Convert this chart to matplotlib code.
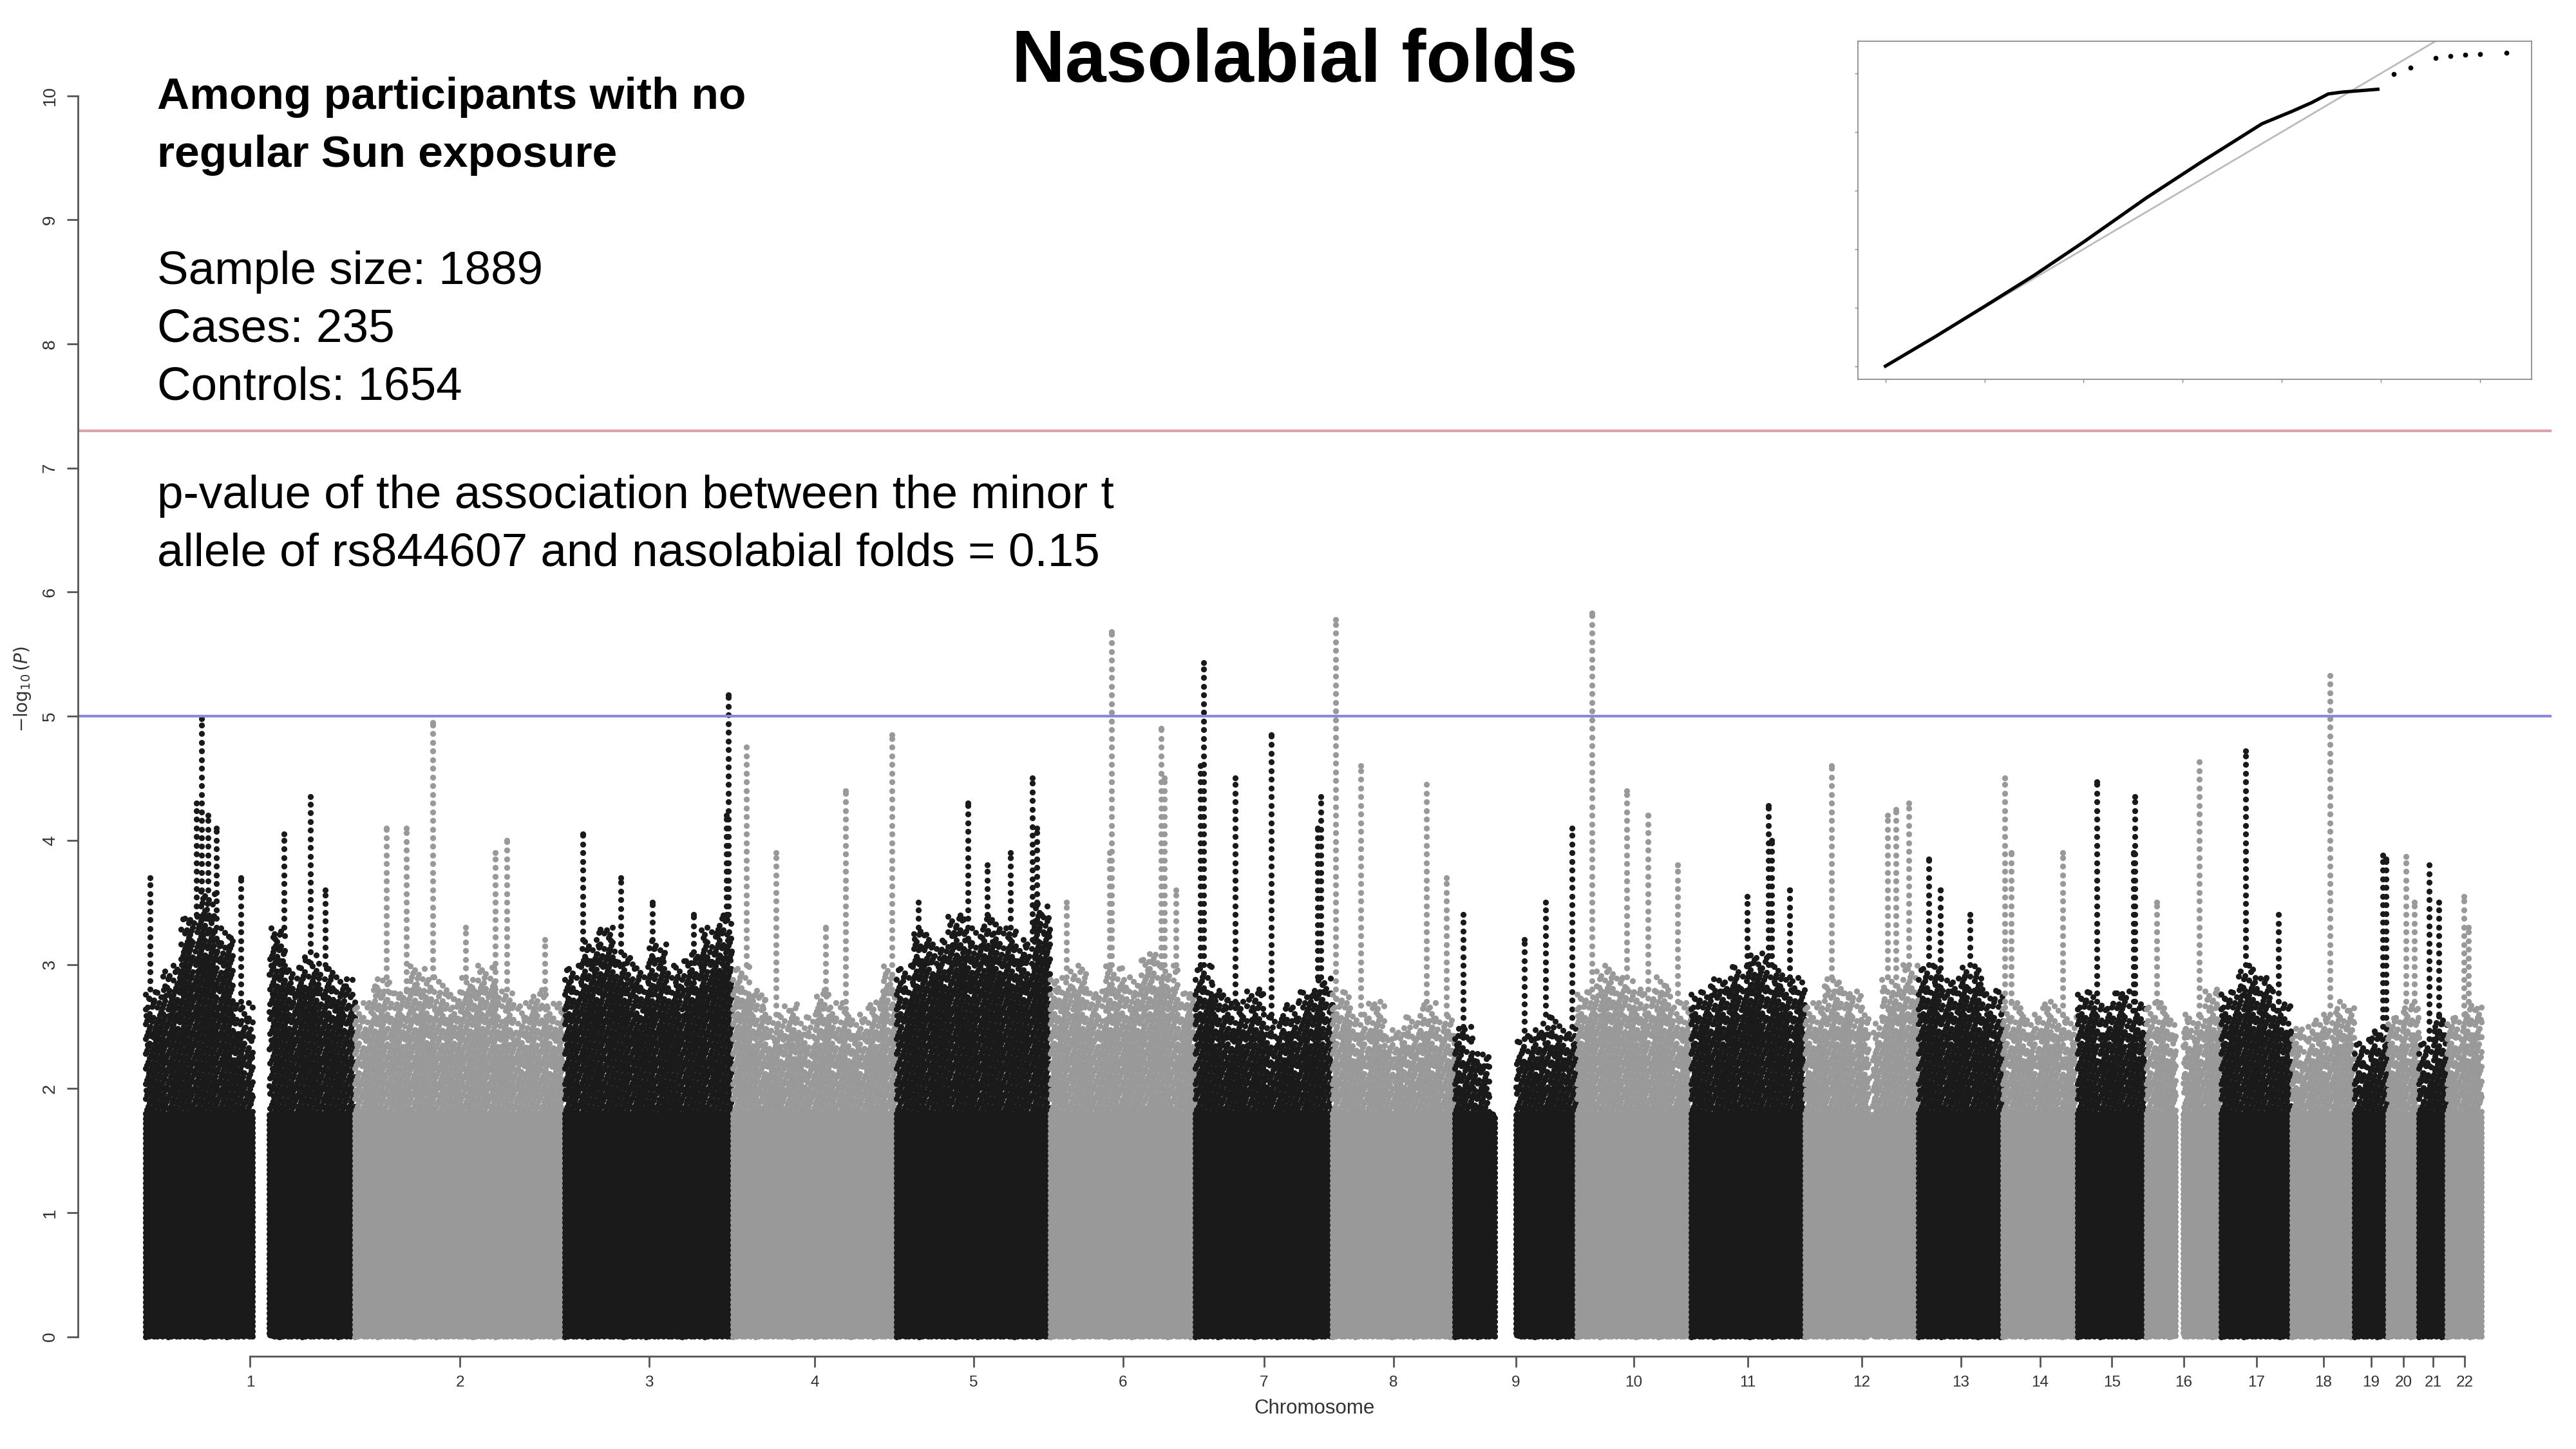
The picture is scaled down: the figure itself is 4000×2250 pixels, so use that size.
import matplotlib.pyplot as plt
import numpy as np

plt.rcParams['font.family'] = ['Liberation Sans', 'DejaVu Sans']

W, H = 1560.0, 878.0  # reference layout units

# chromosome: (start, end, top of the dense mass, gaps, tall columns (x, top -log10 p))
chroms = {
    1: (88, 215, [2.8, 3.0, 3.4, 3.6, 3.3, 2.7, 2.7, 3.3, 3.0, 3.1, 3.0, 2.9], [(153, 163)],
        [(91, 3.7), (119, 4.3), (122, 4.98), (126, 4.2), (131, 4.1), (146, 3.7), (172, 4.05), (188, 4.35), (197, 3.6)]),
    2: (215, 342, [2.7, 2.9, 2.8, 3.0, 2.9, 2.8, 2.9, 3.0, 2.8, 2.7, 2.8, 2.7], [],
        [(234, 4.1), (246, 4.1), (262, 4.95), (300, 3.9), (307, 4.0), (282, 3.3), (330, 3.2)]),
    3: (342, 444, [3.0, 3.2, 3.3, 3.1, 3.0, 3.2, 3.0, 3.1, 3.3, 3.4], [],
        [(353, 4.05), (376, 3.7), (395, 3.5), (420, 3.4), (440, 4.2), (441, 5.17)]),
    4: (444, 543, [3.0, 2.8, 2.6, 2.7, 2.6, 2.8, 2.7, 2.6, 2.7, 3.0], [],
        [(452, 4.75), (470, 3.9), (500, 3.3), (512, 4.4), (540, 4.85)]),
    5: (543, 636, [3.0, 3.3, 3.2, 3.4, 3.3, 3.4, 3.3, 3.2, 3.5], [],
        [(556, 3.5), (586, 4.3), (598, 3.8), (612, 3.9), (625, 4.5), (628, 4.1)]),
    6: (636, 724, [2.9, 3.0, 2.8, 3.0, 2.9, 3.1, 3.0, 2.8], [],
        [(646, 3.5), (672, 3.9), (673, 5.68), (703, 4.9), (705, 4.5), (712, 3.6)]),
    7: (724, 807, [3.0, 2.8, 2.7, 2.8, 2.6, 2.7, 2.8, 2.9], [],
        [(727, 4.6), (729, 5.43), (748, 4.5), (770, 4.85), (800, 4.35), (798, 4.1)]),
    8: (807, 881, [2.8, 2.6, 2.7, 2.5, 2.6, 2.7, 2.6], [],
        [(809, 5.78), (824, 4.6), (864, 4.45), (876, 3.7)]),
    9: (881, 955, [2.5, 2.3, 0, 2.4, 2.5, 2.6, 2.5], [(905, 918)],
        [(886, 3.4), (923, 3.2), (936, 3.5), (952, 4.1)]),
    10: (955, 1024, [2.8, 3.0, 2.9, 2.8, 2.9, 2.7], [],
         [(964, 5.83), (985, 4.4), (998, 4.2), (1016, 3.8)]),
    11: (1024, 1093, [2.8, 2.9, 3.0, 3.1, 3.0, 2.9], [],
         [(1058, 3.55), (1071, 4.28), (1073, 4.0), (1084, 3.6)]),
    12: (1093, 1162, [2.7, 2.9, 2.8, 2.6, 2.9, 3.0], [(1132, 1134)],
         [(1109, 4.6), (1143, 4.2), (1148, 4.25), (1156, 4.3)]),
    13: (1162, 1213, [3.0, 2.9, 3.0, 2.8], [],
         [(1168, 3.85), (1175, 3.6), (1193, 3.4)]),
    14: (1213, 1258, [2.7, 2.6, 2.7, 2.6], [],
         [(1214, 4.5), (1218, 3.9), (1249, 3.9)]),
    15: (1258, 1300, [2.8, 2.7, 2.8, 2.7], [],
         [(1270, 4.47), (1293, 4.35), (1292, 3.9)]),
    16: (1300, 1345, [2.7, 2.6, 2.6, 2.8], [(1318, 1322)],
         [(1306, 3.5), (1332, 4.63)]),
    17: (1345, 1388, [2.8, 3.0, 2.9, 2.7], [],
         [(1360, 4.72), (1380, 3.4)]),
    18: (1388, 1426, [2.5, 2.6, 2.7], [],
         [(1411, 5.33)]),
    19: (1426, 1446, [2.4, 2.5], [],
         [(1443, 3.88), (1445, 3.85)]),
    20: (1446, 1465, [2.6, 2.7], [],
         [(1457, 3.87), (1462, 3.5)]),
    21: (1465, 1482, [2.4, 2.6], [],
         [(1471, 3.8), (1477, 3.5)]),
    22: (1482, 1503, [2.6, 2.7], [],
         [(1492, 3.55), (1495, 3.3)]),
}

fig = plt.figure(figsize=(16, 9), dpi=250)

x0, x1 = 47, 1545
ylo, yhi = -0.16, 10.6
px_per_unit = 75.2
ax_bottom = 822
ax_top = 810 - yhi * px_per_unit
ax = fig.add_axes([x0 / W, 1 - ax_bottom / H, (x1 - x0) / W, (ax_bottom - ax_top) / H])

for c, (s, e, tops, gaps, cols) in chroms.items():
    color = '#1a1a1a' if c % 2 == 1 else '#999999'
    xs = np.arange(s, e, 0.4)
    bins = np.minimum(((xs - s) / (e - s) * len(tops)).astype(int), len(tops) - 1)
    top = np.array(tops)[bins]
    keep = np.ones_like(xs, dtype=bool)
    for g0, g1 in gaps:
        keep &= ~((xs >= g0) & (xs <= g1))
    px, py = [], []
    for i, (x, t) in enumerate(zip(xs[keep], top[keep])):
        ph = (i * 0.618) % 1.0
        ys = np.arange(ph * 0.04, 1.8, 0.04)
        step = 0.12 if i % 2 == 0 else 0.3
        ys2 = np.arange(1.8 + ph * step, t - ph * 0.3 * (i % 3), step)
        yy = np.concatenate([ys, ys2])
        px.append(np.full_like(yy, x))
        py.append(yy)
    for x, t in cols:
        yy = np.arange(top[min(int((x - s) / 0.4), len(top) - 1)], t, 0.07)
        yy = np.append(yy, t)
        px.append(np.full_like(yy, x))
        py.append(yy)
    ax.scatter(np.concatenate(px), np.concatenate(py), s=7, c=color, marker='o',
               linewidths=0, rasterized=True)

ax.axhline(-np.log10(5e-8), color='#e0a0a8', lw=1.2)
ax.axhline(5, color='#8888dd', lw=1.2)

ax.set_xlim(x0, x1)
ax.set_ylim(ylo, yhi)
ticks = [(v[0] + v[1]) / 2 for v in chroms.values()]
ax.set_xticks(ticks)
ax.set_xticklabels([str(c) for c in chroms], fontsize=7)
ax.set_yticks(range(0, 11))
ax.set_yticklabels([str(i) for i in range(11)], fontsize=8, rotation=90, va='center')
for sp in ['top', 'right']:
    ax.spines[sp].set_visible(False)
ax.spines['left'].set_bounds(0, 10)
ax.spines['bottom'].set_bounds(ticks[0], ticks[-1])
for sp in ['left', 'bottom']:
    ax.spines[sp].set_color('#555555')
ax.tick_params(colors='#555555', labelcolor='#333333', length=5)
ax.set_xlabel('Chromosome', fontsize=9, color='#333333')
ax.set_ylabel('$-\\log_{10}(P)$', fontsize=8, color='#333333')

# QQ plot inset
qx0, qx1, qy0, qy1 = 1125, 1533, 25, 230
qa = fig.add_axes([qx0 / W, 1 - qy1 / H, (qx1 - qx0) / W, (qy1 - qy0) / H])
expected = [0, 0.5, 1.0, 1.5, 2.0, 2.63, 3.2, 3.8, 4.1, 4.3, 4.47, 4.6, 4.97, 5.13, 5.3, 5.55, 5.7, 5.85, 6.0, 6.27]
observed = [0, 0.5, 1.02, 1.55, 2.12, 2.87, 3.5, 4.14, 4.35, 4.5, 4.65, 4.68, 4.73, 4.99, 5.1, 5.27, 5.3, 5.32, 5.33, 5.35]
qa.plot([0, 7], [0, 7], color='#bbbbbb', lw=0.8)
qa.plot(expected[:13], observed[:13], color='black', lw=1.5)
qa.scatter(expected[13:], observed[13:], s=1.5, c='black')
qa.set_xlim(-0.28, 6.52)
qa.set_ylim(-0.23, 5.55)
qa.set_xticks(range(0, 7))
qa.set_yticks(range(0, 6))
qa.set_xticklabels([])
qa.set_yticklabels([])
qa.tick_params(length=1.5, width=0.4, colors='#888888')
for sp in qa.spines.values():
    sp.set_linewidth(0.5)
    sp.set_color('#888888')

# texts
fig.text(784 / W, 1 - 38 / H, 'Nasolabial folds', fontsize=33, fontweight='bold',
         ha='center', va='center')
tx = 95 / W
fig.text(tx, 1 - 66 / H, 'Among participants with no', fontsize=20, fontweight='bold', va='baseline')
fig.text(tx, 1 - 101 / H, 'regular Sun exposure', fontsize=20, fontweight='bold', va='baseline')
fig.text(tx, 1 - 172 / H, 'Sample size: 1889', fontsize=21, va='baseline')
fig.text(tx, 1 - 207 / H, 'Cases: 235', fontsize=21, va='baseline')
fig.text(tx, 1 - 242 / H, 'Controls: 1654', fontsize=21, va='baseline')
fig.text(tx, 1 - 308 / H, 'p-value of the association between the minor t', fontsize=21, va='baseline')
fig.text(tx, 1 - 343 / H, 'allele of rs844607 and nasolabial folds = 0.15', fontsize=21, va='baseline')

fig.savefig('out.png', dpi=250)
